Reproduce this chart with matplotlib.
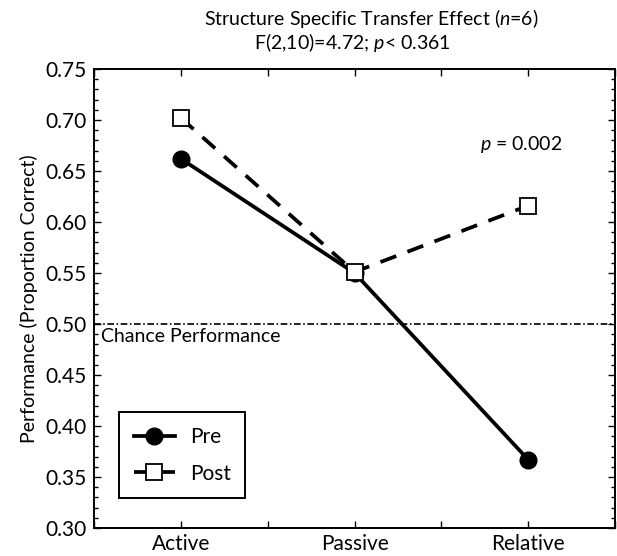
import matplotlib
matplotlib.use("Agg")
import matplotlib.pyplot as plt
from matplotlib.ticker import MultipleLocator

plt.rcParams['font.family'] = ['Lato', 'DejaVu Sans']
plt.rcParams['mathtext.fontset'] = 'custom'
plt.rcParams['mathtext.rm'] = 'Lato'
plt.rcParams['mathtext.it'] = 'Lato:italic'

# data
conditions = ["Active", "Passive", "Relative"]
pre = [0.662, 0.550, 0.367]
post = [0.702, 0.551, 0.616]
chance = 0.50

fig = plt.figure(figsize=(6.17, 5.56), dpi=100)
ax = fig.add_axes([0.1524, 0.0504, 0.8444, 0.8255])

x = list(range(len(conditions)))
ax.plot(x, pre, color='black', lw=2.7, marker='o', ms=12,
        mfc='black', mec='black', label='Pre', zorder=3)
ax.plot(x, post, color='black', lw=2.7, ls=(0, (4.5, 3.2)), marker='s', ms=12,
        mfc='white', mec='black', mew=1.3, label='Post', zorder=4)

ax.axhline(chance, color='black', lw=1.2, ls=(0, (4, 1.5, 1, 1.5)), zorder=1)
ax.text(-0.46, chance - 0.004, "Chance Performance", fontsize=14, va='top', ha='left')
ax.text(1.72, 0.676, "$p$ = 0.002", fontsize=14, ha='left', va='center')

ax.set_xlim(-0.5, 2.5)
ax.set_ylim(0.30, 0.75)
ax.set_xticks(x)
ax.set_xticklabels(conditions, fontsize=15)
ax.xaxis.set_minor_locator(MultipleLocator(0.5))
ax.yaxis.set_major_locator(MultipleLocator(0.05))
ax.yaxis.set_minor_locator(MultipleLocator(0.01))
ax.set_yticklabels([f"{v:.2f}" for v in ax.get_yticks()], fontsize=15)
ax.tick_params(which='both', direction='in', top=True, right=True, width=1.0)
ax.tick_params(which='major', length=5)
ax.tick_params(which='minor', length=3)
ax.tick_params(axis='x', which='minor', length=5)
ax.tick_params(axis='x', pad=4)
ax.tick_params(axis='y', pad=5)
for s in ax.spines.values():
    s.set_linewidth(1.4)

ax.set_ylabel("Performance (Proportion Correct)", fontsize=14, labelpad=6)

fig.text(0.601, 0.966, "Structure Specific Transfer Effect ($n$=6)", fontsize=14,
         ha='center', va='center')
fig.text(0.571, 0.924, "F(2,10)=4.72; $p$< 0.361", fontsize=14,
         ha='center', va='center')

leg = ax.legend(loc='lower left', bbox_to_anchor=(0.048, 0.065), fontsize=15,
                handlelength=2.0, handletextpad=0.7, fancybox=False,
                edgecolor='black', framealpha=1, borderpad=0.7,
                labelspacing=0.8, borderaxespad=0)
leg.get_frame().set_linewidth(1.4)

fig.savefig("out.png", dpi=100)
